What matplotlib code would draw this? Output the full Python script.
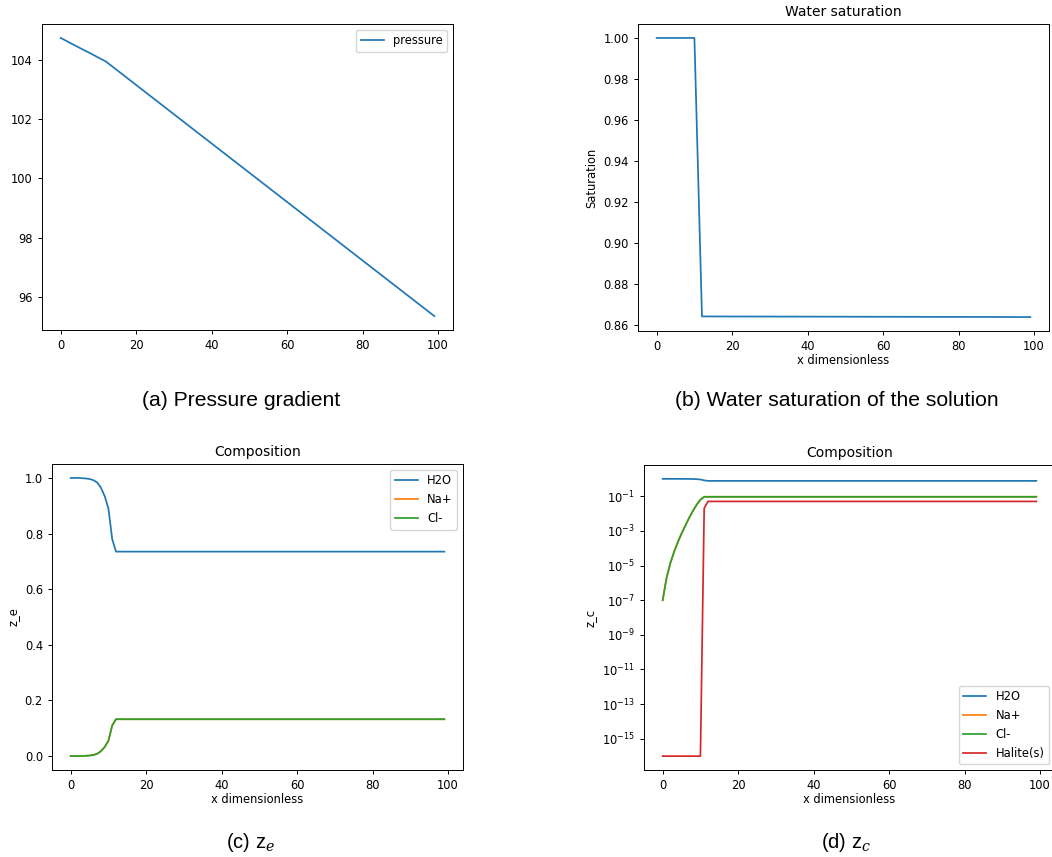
import matplotlib
matplotlib.use("Agg")
import matplotlib.pyplot as plt

# (a) pressure along the domain
x_p = [0, 4, 8, 12, 99]
pressure = [104.75, 104.48, 104.22, 103.95, 95.35]

# (b) water saturation
x_sat = [0, 10, 12, 99]
saturation = [1.0, 1.0, 0.8643, 0.8640]

# (c) composition z_e
x_ze = [0, 1, 2, 3, 4, 5, 6, 7, 8, 9, 10, 11, 12, 99]
h2o_e = [1.0, 1.0, 1.0, 0.999, 0.998, 0.996, 0.992, 0.984, 0.965, 0.935, 0.89, 0.78, 0.735, 0.735]
na_e = [0.0, 0.0, 0.0, 0.0005, 0.001, 0.002, 0.004, 0.008, 0.0175, 0.0325, 0.055, 0.11, 0.1325, 0.1325]
cl_e = [0.0, 0.0, 0.0, 0.0005, 0.001, 0.002, 0.004, 0.008, 0.0175, 0.0325, 0.055, 0.11, 0.1325, 0.1325]

# (d) composition z_c (log scale)
x_zc = [0, 1, 2, 3, 4, 5, 6, 7, 8, 9, 10, 11, 12, 99]
h2o_c = [1.0, 1.0, 1.0, 1.0, 1.0, 1.0, 0.995, 0.99, 0.98, 0.96, 0.92, 0.82, 0.765, 0.765]
na_c = [1e-7, 1.8e-6, 1.3e-5, 6e-5, 2.2e-4, 7e-4, 2e-3, 5.6e-3, 1.4e-2, 3.2e-2, 6.3e-2, 0.092, 0.0925, 0.0925]
cl_c = [1e-7, 1.8e-6, 1.3e-5, 6e-5, 2.2e-4, 7e-4, 2e-3, 5.6e-3, 1.4e-2, 3.2e-2, 6.3e-2, 0.092, 0.0925, 0.0925]
halite_c = [1e-16, 1e-16, 1e-16, 1e-16, 1e-16, 1e-16, 1e-16, 1e-16, 1e-16, 1e-16, 1e-16, 0.02, 0.05, 0.05]

captions = ["(a) Pressure gradient", "(b) Water saturation of the solution",
            r"(c) z$_{\mathit{e}}$", r"(d) z$_{\mathit{c}}$"]

fs = 8.3
lw = 1.25
plt.rcParams.update({
    "font.size": fs,
    "axes.titlesize": 10,
    "axes.labelsize": fs,
    "xtick.labelsize": fs,
    "ytick.labelsize": fs,
    "legend.fontsize": fs,
    "axes.linewidth": 0.7,
    "xtick.major.width": 0.7,
    "ytick.major.width": 0.7,
    "xtick.major.size": 3,
    "ytick.major.size": 3,
    "mathtext.fontset": "dejavuserif",
})

fig = plt.figure(figsize=(10.52, 8.57), dpi=100)

W = 1052.0
H = 857.0

def add_ax(left, top, right, bottom):
    return fig.add_axes([left / W, 1 - bottom / H, (right - left) / W, (bottom - top) / H])

# (a)
ax1 = add_ax(42, 24, 453, 330)
ax1.plot(x_p, pressure, lw=lw, label="pressure")
ax1.set_xticks([0, 20, 40, 60, 80, 100])
ax1.legend(loc="upper right")

# (b)
ax2 = add_ax(638, 24, 1049, 331)
ax2.plot(x_sat, saturation, lw=lw)
ax2.set_title("Water saturation")
ax2.set_xlabel("x dimensionless", labelpad=1)
ax2.set_ylabel("Saturation")
ax2.set_xticks([0, 20, 40, 60, 80, 100])

# (c)
ax3 = add_ax(52, 464, 463, 770)
ax3.plot(x_ze, h2o_e, lw=lw, label="H2O")
ax3.plot(x_ze, na_e, lw=lw, label="Na+")
ax3.plot(x_ze, cl_e, lw=lw, label="Cl-")
ax3.set_title("Composition")
ax3.set_xlabel("x dimensionless", labelpad=1)
ax3.set_ylabel("z_e")
ax3.set_xticks([0, 20, 40, 60, 80, 100])
ax3.legend(loc="upper right")

# (d) - the right edge runs off the page like in the source figure
ax4 = add_ax(644, 465, 1055, 770)
ax4.plot(x_zc, h2o_c, lw=lw, label="H2O")
ax4.plot(x_zc, na_c, lw=lw, label="Na+")
ax4.plot(x_zc, cl_c, lw=lw, label="Cl-")
ax4.plot(x_zc, halite_c, lw=lw, label="Halite(s)")
ax4.set_yscale("log")
ax4.set_title("Composition")
ax4.set_xlabel("x dimensionless", labelpad=1)
ax4.set_ylabel("z_c")
ax4.set_xticks([0, 20, 40, 60, 80, 100])
ax4.legend(loc="lower right")

# captions under each panel
cap_pos = [(241, 400), (837, 400), (251, 842), (846, 842)]
cap_size = [15.2, 15.2, 14.5, 14.5]
for (cx, cy), txt, s in zip(cap_pos, captions, cap_size):
    fig.text(cx / W, 1 - cy / H, txt, ha="center", va="center",
             fontsize=s, family="Liberation Sans")

fig.savefig("out.png", dpi=100)
